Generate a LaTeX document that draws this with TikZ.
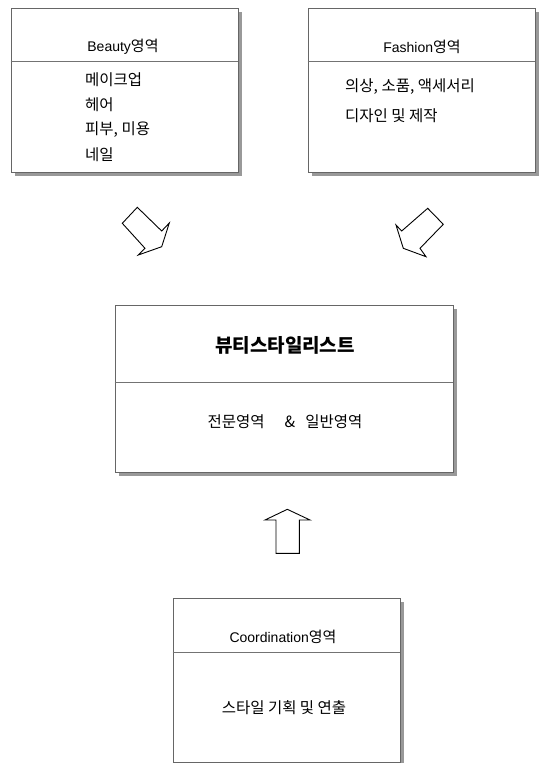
\documentclass[tikz,border=0pt]{standalone}
\usepackage{fontspec}
\setmainfont{Liberation Sans}
\newfontfamily\kr{Noto Sans CJK KR}
\usetikzlibrary{calc}
\usetikzlibrary{shadows}
\usepackage{xcolor}

\tikzset{
  areabox/.style={draw=black!60, line width=0.6pt, fill=white,
    minimum width=227pt, minimum height=164pt, inner sep=0pt,
    drop shadow={shadow xshift=4pt, shadow yshift=-4pt, fill=black!40, opacity=1}},
  divider/.style={draw=black!55, line width=0.6pt},
  areatext/.style={font=\fontsize{14}{16}\selectfont, inner sep=0pt},
  krtext/.style={areatext, font=\kr\fontsize{15.5}{18}\selectfont},
  blockarrow/.style={draw=black, line width=0.9pt, fill=white, line join=miter}
}

\begin{document}
\begin{tikzpicture}[x=1pt, y=-1pt]

        \useasboundingbox (0,0) rectangle (540,763);

        % Boxes
        \node[areabox] (beauty) at (124.5,90) {};
        \node[areabox] (fashion) at (421.5,90) {};
        \node[areabox, minimum width=338pt, minimum height=167pt] (stylist) at (284,388.5) {};
        \node[areabox] (coord) at (286.5,680) {};

        % Dividers
        \foreach \b/\d in {beauty/54, fashion/54, stylist/78, coord/55}
        {
          \draw[divider] ($(\b.north west)+(0,\d)$) -- ($(\b.north east)+(0,\d)$);
        }

        % Titles
        \node[areatext] (beautytitle) at (123,47) {Beauty{\kr\fontsize{15}{18}\selectfont 영역}};
        \node[areatext] (fashiontitle) at (422,47) {Fashion{\kr\fontsize{15}{18}\selectfont 영역}};
        \node[areatext, font=\kr\fontsize{19}{22}\selectfont\bfseries] (stylisttitle) at (285,345) {뷰티스타일리스트};
        \node[areatext] (coordtitle) at (283,637) {Coordination{\kr\fontsize{15}{18}\selectfont 영역}};

        % Beauty lines
        \foreach \t [count=\i] in {메이크업, 헤어, {피부, 미용}, 네일}
        {
          \node[krtext, anchor=west] (beautyline\i) at (85,{55+25*\i}) {\t};
        }

        % Fashion lines
        \node[krtext, anchor=west] (fashionline1) at (345,87) {의상, 소품, 액세서리};
        \node[krtext, anchor=west] (fashionline2) at (345,116) {디자인 및 제작};

        % Lower texts
        \node[krtext] (stylistsub) at (285,422) {전문영역\hspace{20pt}\&\hspace{10pt}일반영역};
        \node[krtext] (coordsub) at (284,708) {스타일 기획 및 연출};

        % Arrows
        \draw[blockarrow] (122.3,223.3) -- (137.3,207.3) -- (161.7,231) -- (169.3,223)
          -- (161.7,246.7) -- (138.3,255) -- (145,248.3) -- cycle;
        \draw[blockarrow] (427.7,208.3) -- (443.3,224.3) -- (420,248.3) -- (426,256.7)
          -- (403.3,248.3) -- (396,225) -- (401.7,231) -- cycle;
        \draw[blockarrow] (287.3,509.3) -- (310,520) -- (299.3,520) -- (299.3,553.3)
          -- (276,553.3) -- (276,520) -- (265,520) -- cycle;

\end{tikzpicture}
\end{document}
